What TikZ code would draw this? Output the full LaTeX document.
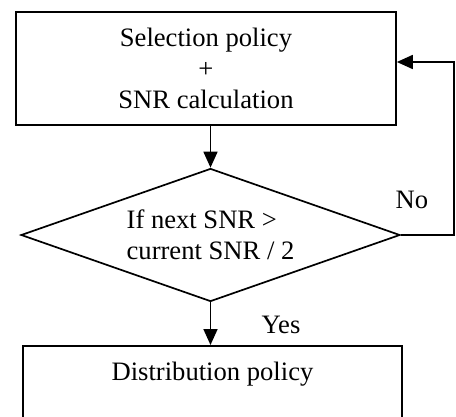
\documentclass[tikz,border=0pt]{standalone}
\usepackage{fontspec}
\setmainfont{Liberation Serif}
\usetikzlibrary{shapes.geometric,arrows.meta}
\tikzset{>={Triangle[length=16pt,width=14pt]}}

\begin{document}
\begin{tikzpicture}[x=1pt,y=-1pt,line width=1.7pt,
    every node/.style={font=\fontsize{26.6}{31}\selectfont},
    box/.style={draw,rectangle,minimum width=380pt,inner sep=0pt},
    test/.style={draw,diamond,aspect=2.85,minimum width=379pt,minimum height=133pt,inner sep=0pt,align=left}]
    \useasboundingbox (0,0) rectangle (456,416);
    \node[box,minimum height=113pt,align=center] (select) at (206,68.5) {Selection policy\\+\\SNR calculation};
    \node[test] (check) at (210.5,235) {If next SNR >\\current SNR / 2};
    \node[box,minimum width=379pt,anchor=north,text height=35pt,text depth=65pt] (distrib) at (212.5,345) {Distribution policy};
    \coordinate (back) at (454,62);
    \draw[->] (check.north |- select.south) -- (check.north);
    \draw[->] (check.south) -- (check.south |- distrib.north);
    \draw[->] (check.east) -| (back) -- (back -| select.east);
    \node[anchor=base] (no) at (412,208) {No};
    \node[anchor=base] (yes) at (281,333) {Yes};
\end{tikzpicture}
\end{document}
